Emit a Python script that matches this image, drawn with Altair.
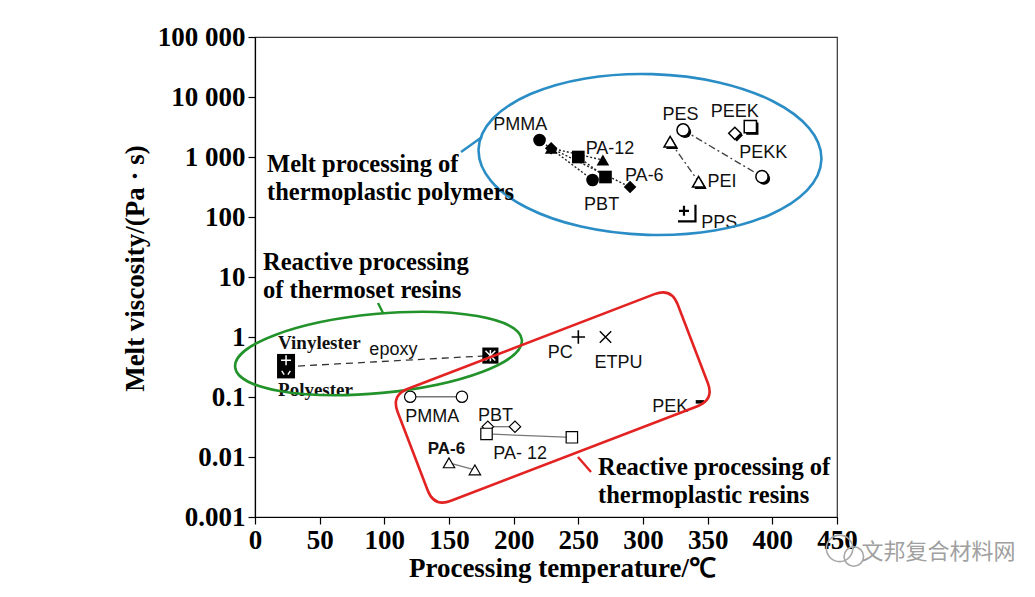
import altair as alt
import pandas as pd

# ---------------- data ----------------
# melt processing of thermoplastic polymers (filled black symbols)
melt_names = ["PMMA", "PA-12", "PBT", "PA-6"]
melt_shapes = ["circle", "triangle-up", "square", "diamond"]
melt_temp = [[220, 261], [229, 269], [250, 271], [229, 290]]
melt_visc = [[1920, 414], [1400, 890], [1000, 464], [1400, 316]]

# high-temperature thermoplastics (open symbols with shadow)
hot_names = ["PES", "PEI"]
hot_shapes = ["circle", "triangle-up"]
hot_temp = [[331, 392], [321, 343]]
hot_visc = [[2820, 470], [1800, 387]]
hot_single_names = ["PEEK", "PEKK"]
hot_single_shapes = ["square", "diamond"]
hot_single_temp = [383, 371]
hot_single_visc = [3200, 2480]
pps_temp = [334]
pps_visc = [115]

# reactive processing of thermoplastic resins
rx_names = ["PMMA", "PBT", "PA-12", "PA-6"]
rx_shapes = ["circle", "diamond", "square", "triangle-up"]
rx_temp = [[120, 160], [180, 201], [179, 245], [150, 170]]
rx_visc = [[0.101, 0.101], [0.032, 0.032], [0.0242, 0.0213], [0.0080, 0.0061]]
other_names = ["PC", "ETPU", "PEK"]
other_temp = [250, 271, 344]
other_visc = [1.0, 1.0, 0.083]

# reactive processing of thermoset resins
ts_names = ["Vinylester", "Polyester", "epoxy"]
ts_temp = [24, 24, 182]
ts_visc = [0.41, 0.26, 0.49]
ts_line_temp = [24, 182]
ts_line_visc = [0.32, 0.49]

# axis ticks
x_ticks = [0, 50, 100, 150, 200, 250, 300, 350, 400, 450]
y_ticks = [0.001, 0.01, 0.1, 1, 10, 100, 1000, 10000, 100000]
y_tick_labels = ["0.001", "0.01", "0.1", "1", "10", "100", "1 000", "10 000", "100 000"]

# point labels
lab_text = ["PMMA", "PA-12", "PA-6", "PBT", "PES", "PEEK", "PEKK", "PEI", "PPS",
            "PC", "ETPU", "PEK", "PMMA", "PBT", "PA- 12", "epoxy"]
lab_temp = [205, 274.5, 301, 268, 329, 371, 393, 361, 359,
            236, 281, 321, 137, 186, 205, 107]
lab_visc = [3415, 1359, 482, 158, 5012, 5623, 1166, 383, 79.4,
            0.541, 0.369, 0.068, 0.0464, 0.0483, 0.0112, 0.607]
bold_lab_text = ["PA-6"]
bold_lab_temp = [148]
bold_lab_visc = [0.0136]
serif_lab_text = ["Vinylester", "Polyester"]
serif_lab_temp = [17.8, 17.8]
serif_lab_visc = [0.794, 0.131]

# group annotations
note_text = ["Melt processing of\nthermoplastic polymers",
             "Reactive processing\nof thermoset resins",
             "Reactive processing of\nthermoplastic resins"]
note_temp = [9.3, 6.2, 265.2]
note_visc = [562, 13.1, 0.005]

# ---------------- tables ----------------
def pairs(names, shapes, temps, viscs):
    rows = []
    for n, s, ts, vs in zip(names, shapes, temps, viscs):
        for t, v in zip(ts, vs):
            rows.append({"name": n, "shape": s, "t": t, "v": v})
    return pd.DataFrame(rows)

melt_df = pairs(melt_names, melt_shapes, melt_temp, melt_visc)
hot_df = pairs(hot_names, hot_shapes, hot_temp, hot_visc)
hot_pts = pd.concat([hot_df, pd.DataFrame({"name": hot_single_names, "shape": hot_single_shapes,
                                           "t": hot_single_temp, "v": hot_single_visc})])
rx_df = pairs(rx_names, rx_shapes, rx_temp, rx_visc)
other_df = pd.DataFrame({"name": other_names, "t": other_temp, "v": other_visc})
ts_df = pd.DataFrame({"name": ts_names, "t": ts_temp, "v": ts_visc})
ts_line = pd.DataFrame({"name": "epoxy", "t": ts_line_temp, "v": ts_line_visc})
pps_df = pd.DataFrame({"t": pps_temp, "v": pps_visc})
lab_df = pd.DataFrame({"text": lab_text, "t": lab_temp, "v": lab_visc})
bold_df = pd.DataFrame({"text": bold_lab_text, "t": bold_lab_temp, "v": bold_lab_visc})
serif_df = pd.DataFrame({"text": serif_lab_text, "t": serif_lab_temp, "v": serif_lab_visc})
note_df = pd.DataFrame({"text": note_text, "t": note_temp, "v": note_visc})

# ---------------- encodings ----------------
y_expr = " : ".join(f"datum.value > {v * 0.5} ? '{l}'" for v, l in
                    zip(reversed(y_ticks[1:]), reversed(y_tick_labels[1:]))) + f" : '{y_tick_labels[0]}'"

X = alt.X("t:Q", scale=alt.Scale(domain=[0, 450], nice=False),
          axis=alt.Axis(values=x_ticks, title="Processing temperature/℃", labelFlush=False,
                        labelOverlap=False, titleX=307, titleY=59, titleBaseline="alphabetic",
                        titleAlign="center"))
Y = alt.Y("v:Q", scale=alt.Scale(type="log", domain=[0.001, 100000], nice=False),
          axis=alt.Axis(values=y_ticks, labelExpr=y_expr, title="Melt viscosity/(Pa · s)",
                        labelFlush=False, labelOverlap=False, titleX=-112, titleY=231,
                        titleAngle=270, titleBaseline="alphabetic", titleAlign="center"))
X2 = alt.X2("t2:Q")
Y2 = alt.Y2("v2:Q")
SH = alt.Shape("shape:N", scale=None)

def xy():
    return dict(x=X, y=Y)

layers = []
# watermark icon (behind everything)
wm_icon = pd.DataFrame({"t": [452.0, 463.0], "v": [0.00030, 0.00022], "s": [700, 380]})
layers.append(alt.Chart(wm_icon).mark_point(shape="circle", filled=False, stroke="#a8a8a8",
                                            strokeWidth=1.6, opacity=1)
              .encode(**xy(), size=alt.Size("s:Q", scale=None)))

# lines
layers.append(alt.Chart(melt_df).mark_line(color="#222", strokeWidth=1.4, strokeDash=[2, 2])
              .encode(**xy(), detail="name:N"))
layers.append(alt.Chart(hot_df).mark_line(color="#444", strokeWidth=1.4, strokeDash=[7, 3, 2, 3])
              .encode(**xy(), detail="name:N"))
layers.append(alt.Chart(rx_df).mark_line(color="#777", strokeWidth=1.3)
              .encode(**xy(), detail="name:N"))
layers.append(alt.Chart(ts_line).mark_line(color="#333", strokeWidth=1.3, strokeDash=[7, 5])
              .encode(**xy(), detail="name:N"))

# melt filled symbols
layers.append(alt.Chart(melt_df).mark_point(filled=True, color="black", size=160, opacity=1)
              .encode(**xy(), shape=SH))
# hot open symbols with shadow
layers.append(alt.Chart(hot_pts).mark_point(filled=True, color="black", size=150, opacity=1,
                                            xOffset=2, yOffset=2).encode(**xy(), shape=SH))
layers.append(alt.Chart(hot_pts).mark_point(filled=True, fill="white", stroke="black", strokeWidth=1.5,
                                            size=150, opacity=1).encode(**xy(), shape=SH))
# PPS glyph
pps_path = "M -0.8 -0.25 L 0.2 -0.25 M -0.3 -0.75 L -0.3 0.25 M 0.85 -0.85 L 0.85 0.8 L -0.9 0.8"
layers.append(alt.Chart(pps_df).mark_point(shape=pps_path, size=400, stroke="black", strokeWidth=2.2,
                                           opacity=1).encode(**xy()))
# reactive open symbols
layers.append(alt.Chart(rx_df).mark_point(filled=True, fill="white", stroke="black", strokeWidth=1.2,
                                          size=130, opacity=1).encode(**xy(), shape=SH))
# PC, ETPU, PEK glyphs
glyph_paths = {"PC": ("M -1 0 L 1 0 M 0 -1 L 0 1", 180, 1.6),
               "ETPU": ("M -1 -1 L 1 1 M -1 1 L 1 -1", 130, 1.4),
               "PEK": ("M -1 0 L 1 0", 70, 3.5)}
for nm, (path, sz, sw) in glyph_paths.items():
    layers.append(alt.Chart(other_df[other_df["name"] == nm]).mark_point(
        shape=path, size=sz, stroke="black", strokeWidth=sw, opacity=1).encode(**xy()))

# thermoset black squares with white glyphs
rect_path = "M -1 -0.7 L 1 -0.7 L 1 0.7 L -1 0.7 Z"
layers.append(alt.Chart(ts_df[ts_df["name"] != "epoxy"]).mark_point(
    shape=rect_path, filled=True, color="black", size=324, opacity=1).encode(**xy()))
layers.append(alt.Chart(ts_df[ts_df["name"] == "epoxy"]).mark_point(
    shape="square", filled=True, color="black", size=260, opacity=1).encode(**xy()))
white_glyphs = {"Vinylester": ("M -1 0 L 1 0 M 0 -1 L 0 1", 100, 1.5),
                "Polyester": ("M -0.7 -0.2 L -0.3 0.4 M 0.7 -0.2 L 0.3 0.4", 150, 1.4),
                "epoxy": ("M -0.7 -0.7 L 0.7 0.7 M 0.7 -0.7 L -0.7 0.7 M 0 -0.8 L 0 0.8", 196, 1.5)}
for nm, (path, sz, sw) in white_glyphs.items():
    layers.append(alt.Chart(ts_df[ts_df["name"] == nm]).mark_point(
        shape=path, size=sz, stroke="white", strokeWidth=sw, opacity=1).encode(**xy()))

# point labels
layers.append(alt.Chart(lab_df).mark_text(font="Liberation Sans", fontSize=18, color="#111")
              .encode(**xy(), text="text:N"))
layers.append(alt.Chart(bold_df).mark_text(font="Liberation Sans", fontSize=17, fontWeight="bold",
                                           color="#111").encode(**xy(), text="text:N"))
layers.append(alt.Chart(serif_df).mark_text(font="Liberation Serif", fontSize=19, fontWeight="bold",
                                            color="#111", align="left").encode(**xy(), text="text:N"))

# group frames (ellipses and rounded rectangle), drawn as outline symbols
def ellipse_path(r):
    k = 0.5523
    return (f"M 1 0 C 1 {k*r:.4f} {k:.4f} {r:.4f} 0 {r:.4f} "
            f"C {-k:.4f} {r:.4f} -1 {k*r:.4f} -1 0 "
            f"C -1 {-k*r:.4f} {-k:.4f} {-r:.4f} 0 {-r:.4f} "
            f"C {k:.4f} {-r:.4f} 1 {-k*r:.4f} 1 0 Z")

def rrect_path(h, r):
    return (f"M {-1+r} {-h} L {1-r} {-h} Q 1 {-h} 1 {-h+r} L 1 {h-r} Q 1 {h} {1-r} {h} "
            f"L {-1+r} {h} Q -1 {h} -1 {h-r} L -1 {-h+r} Q -1 {-h} {-1+r} {-h} Z")

frames = [  # (center temp, center visc, path, size, angle, color)
    (305.4, 1101, ellipse_path(0.469), 343 ** 2, 1.7, "#2a8dc5"),
    (95.5, 0.531, ellipse_path(0.275), 288 ** 2, 354.6, "#22922a"),
    (230.2, 0.0982, rrect_path(0.4, 0.12), 300 ** 2, 339, "#e32222"),
]
for ft, fv, path, sz, ang, col in frames:
    layers.append(alt.Chart(pd.DataFrame({"t": [ft], "v": [fv]})).mark_point(
        shape=path, size=sz, angle=ang, stroke=col, strokeWidth=2.6, opacity=1, filled=False)
        .encode(**xy()))

pointers = pd.DataFrame({"t": [159.3, 99.0, 249.7], "v": [1211, 2.51, 0.01],
                         "t2": [175.5, 95.1, 259.8], "v2": [2154, 3.69, 0.00562],
                         "c": ["#2a8dc5", "#22922a", "#e32222"]})
layers.append(alt.Chart(pointers).mark_rule(strokeWidth=2.4).encode(
    **xy(), x2=X2, y2=Y2, color=alt.Color("c:N", scale=None)))

layers.append(alt.Chart(note_df).mark_text(font="Liberation Serif", fontSize=24.5, fontWeight="bold",
                                           color="black", align="left", baseline="alphabetic",
                                           lineBreak="\n", lineHeight=28)
              .encode(**xy(), text="text:N"))

# watermark text
layers.append(alt.Chart(pd.DataFrame({"text": ["文邦复合材料网"], "t": [469.0], "v": [0.00026]}))
              .mark_text(font="Noto Sans CJK SC", fontSize=22, color="#a0a0a0", align="left")
              .encode(**xy(), text="text:N"))

chart = alt.layer(*layers).properties(
    width=582, height=480,
    autosize=alt.AutoSizeParams(type="none"),
    padding={"left": 247, "top": 29, "right": 188, "bottom": 70},
    background="white",
).configure_view(stroke="#333", strokeWidth=1.2).configure_axis(
    grid=False, domainColor="black", tickColor="black", domainWidth=1.2, tickWidth=1.2,
    tickSize=7, labelPadding=3,
    labelFont="Liberation Serif", labelFontSize=27, labelFontWeight="bold", labelColor="black",
    titleFont="Liberation Serif", titleFontSize=27, titleFontWeight="bold", titleColor="black",
)

chart.save("out.html", embed_options={"renderer": "svg", "actions": False})
